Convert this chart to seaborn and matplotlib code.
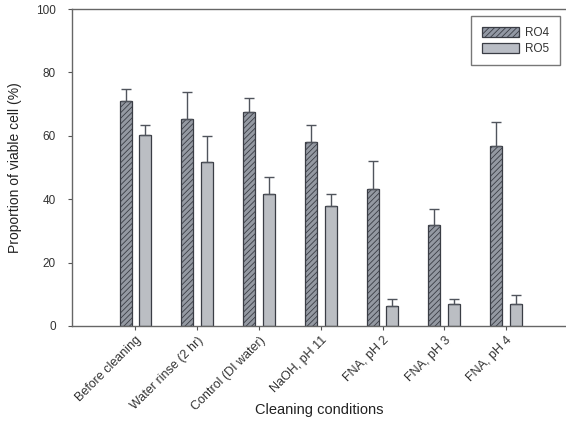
import numpy as np
import pandas as pd
import matplotlib
matplotlib.use("Agg")
import matplotlib.pyplot as plt
import seaborn as sns
from matplotlib.patches import Patch

conditions = ["Before cleaning", "Water rinse (2 hr)", "Control (DI water)",
              "NaOH, pH 11", "FNA, pH 2", "FNA, pH 3", "FNA, pH 4"]
ro4_mean = [71.0, 65.3, 67.4, 57.9, 43.3, 32.0, 56.8]
ro4_err = [3.8, 8.6, 4.6, 5.4, 8.7, 5.0, 7.6]
ro5_mean = [60.4, 51.8, 41.7, 37.8, 6.3, 6.8, 6.8]
ro5_err = [3.1, 8.0, 5.3, 3.9, 2.3, 1.8, 3.0]
series = ["RO4", "RO5"]

df = pd.DataFrame({
    "condition": conditions * 2,
    "series": [series[0]] * len(conditions) + [series[1]] * len(conditions),
    "value": ro4_mean + ro5_mean,
})
errors = {series[0]: ro4_err, series[1]: ro5_err}

fill = {"RO4": "#9298a4", "RO5": "#b9bdc5"}
edge = "#3a3d45"

sns.set_style("white")
plt.rcParams["font.family"] = ["Liberation Sans", "DejaVu Sans"]
plt.rcParams["hatch.color"] = "#50545e"
plt.rcParams["hatch.linewidth"] = 0.6

fig = plt.figure(figsize=(5.66, 4.34), dpi=100)
ax = fig.add_axes([0.128, 0.249, 0.872, 0.730])

sns.barplot(data=df, x="condition", y="value", hue="series",
            palette=fill, width=0.64, gap=0.39, edgecolor=edge,
            linewidth=0.9, errorbar=None, legend=False, ax=ax)

for cont, name in zip(ax.containers, series):
    xs, ys = [], []
    for bar in cont:
        if name == "RO4":
            bar.set_hatch("//////")
        xs.append(bar.get_x() + bar.get_width() / 2)
        ys.append(bar.get_height())
    err = np.array(errors[name])
    ax.errorbar(xs, ys, yerr=[np.zeros_like(err), err], fmt="none",
                ecolor="#50545c", elinewidth=1.0, capsize=3.5,
                capthick=1.0, zorder=1)

ax.set_ylim(0, 100)
ax.set_xlim(-1.02, 6.97)
ax.set_yticks(range(0, 101, 20))
ax.set_xticks(range(len(conditions)))
ax.set_xticklabels(conditions, rotation=45, ha="right",
                   rotation_mode="anchor", fontsize=9, color="#333333")
ax.tick_params(axis="y", labelsize=8.5, labelcolor="#333333",
               length=3, width=0.8, color="#555555", left=True, pad=9)
ax.tick_params(axis="x", length=3, width=0.8, color="#555555",
               bottom=True, pad=3)

for side in ["left", "bottom", "top"]:
    ax.spines[side].set_color("#666666")
    ax.spines[side].set_linewidth(1.0)
ax.spines["right"].set_visible(False)

ax.set_xlabel("Cleaning conditions", fontsize=10.5, color="#222222")
ax.xaxis.set_label_coords(0.5, -0.243)
ax.set_ylabel("Proportion of viable cell (%)", fontsize=10, color="#222222",
              labelpad=10)

handles = [Patch(facecolor=fill["RO4"], edgecolor=edge, hatch="//////",
                 linewidth=0.9, label="RO4"),
           Patch(facecolor=fill["RO5"], edgecolor=edge, linewidth=0.9,
                 label="RO5")]
leg = ax.legend(handles=handles, loc="upper right",
                bbox_to_anchor=(0.988, 0.978), borderaxespad=0,
                fontsize=8.5, frameon=True, fancybox=False,
                handlelength=3.2, handleheight=0.9, handletextpad=0.5,
                labelspacing=0.35, borderpad=0.9)
leg.get_frame().set_edgecolor("#555555")
leg.get_frame().set_linewidth(1.0)
for t in leg.get_texts():
    t.set_color("#333333")

fig.savefig("out.png", dpi=100)
